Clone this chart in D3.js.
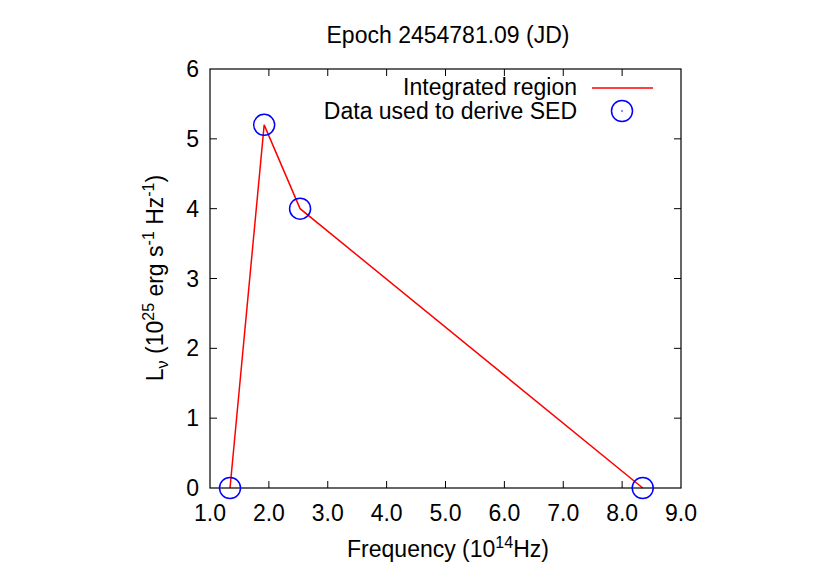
<!DOCTYPE html>
<html>
<head>
<meta charset="utf-8">
<script src="https://cdn.jsdelivr.net/npm/d3@7"></script>
<style>
body { margin: 0; background: #fff; }
text { font-family: "Liberation Sans", Arial, sans-serif; fill: #000; }
</style>
</head>
<body>
<svg width="830" height="581"></svg>
<script>
// SED points (frequency in 1e14 Hz, L_nu in 1e25 erg/s/Hz)
var freq = [1.34, 1.92, 2.53, 8.35];
var lum = [0.0, 5.2, 4.0, 0.0];
var xTicks = [1, 2, 3, 4, 5, 6, 7, 8, 9];
var yTicks = [0, 1, 2, 3, 4, 5, 6];

var svg = d3.select("svg"),
    pLeft = 210, pRight = 681, pTop = 69, pBottom = 488,
    fs = "23px", fsSmall = "16px";

var x = d3.scaleLinear().domain([1, 9]).range([pLeft, pRight]);
var y = d3.scaleLinear().domain([0, 6]).range([pBottom, pTop]);

var pts = freq.map(function(f, i) { return { f: f, l: lum[i] }; });

// ticks on all four sides, pointing inward
var tickLen = 7;
var g = svg.append("g").attr("stroke", "#000").attr("stroke-width", 1);
xTicks.slice(1, -1).forEach(function(t) {
    g.append("line").attr("x1", x(t)).attr("x2", x(t)).attr("y1", pBottom).attr("y2", pBottom - tickLen);
    g.append("line").attr("x1", x(t)).attr("x2", x(t)).attr("y1", pTop).attr("y2", pTop + tickLen);
});
yTicks.slice(1, -1).forEach(function(t) {
    g.append("line").attr("x1", pLeft).attr("x2", pLeft + tickLen).attr("y1", y(t)).attr("y2", y(t));
    g.append("line").attr("x1", pRight).attr("x2", pRight - tickLen).attr("y1", y(t)).attr("y2", y(t));
});

svg.append("g").selectAll("text").data(xTicks).enter().append("text")
    .attr("x", function(d) { return x(d); })
    .attr("y", pBottom + 33)
    .attr("text-anchor", "middle")
    .style("font-size", fs)
    .text(function(d) { return d3.format(".1f")(d); });

svg.append("g").selectAll("text").data(yTicks).enter().append("text")
    .attr("x", pLeft - 11)
    .attr("y", function(d) { return y(d) + 8; })
    .attr("text-anchor", "end")
    .style("font-size", fs)
    .text(function(d) { return d; });

// the integrated region line
svg.append("path")
    .datum(pts)
    .attr("fill", "none")
    .attr("stroke", "#ff0000")
    .attr("stroke-width", 1.5)
    .attr("d", d3.line().x(function(d) { return x(d.f); }).y(function(d) { return y(d.l); }));

// frame
svg.append("rect")
    .attr("x", pLeft).attr("y", pTop)
    .attr("width", pRight - pLeft).attr("height", pBottom - pTop)
    .attr("fill", "none").attr("stroke", "#000").attr("stroke-width", 1.2);

svg.append("g").selectAll("circle").data(pts).enter().append("circle")
    .attr("cx", function(d) { return x(d.f); })
    .attr("cy", function(d) { return y(d.l); })
    .attr("r", 10.5)
    .attr("fill", "none")
    .attr("stroke", "#0000ff")
    .attr("stroke-width", 1.5);

// legend
svg.append("text").attr("x", 577).attr("y", 95).attr("text-anchor", "end")
    .style("font-size", fs).text("Integrated region");
svg.append("line").attr("x1", 592).attr("x2", 653).attr("y1", 88).attr("y2", 88)
    .attr("stroke", "#ff0000").attr("stroke-width", 1.5);
svg.append("text").attr("x", 577).attr("y", 119).attr("text-anchor", "end")
    .style("font-size", fs).text("Data used to derive SED");
svg.append("circle").attr("cx", 622).attr("cy", 111).attr("r", 10.5)
    .attr("fill", "none").attr("stroke", "#0000ff").attr("stroke-width", 1.5);
svg.append("circle").attr("cx", 622).attr("cy", 111).attr("r", 0.8).attr("fill", "#0000ff");

// title and axis labels
svg.append("text").attr("x", 448).attr("y", 43).attr("text-anchor", "middle")
    .style("font-size", fs).text("Epoch 2454781.09 (JD)");

var xl = svg.append("text").attr("x", 448).attr("y", 557).attr("text-anchor", "middle")
    .style("font-size", fs);
xl.append("tspan").text("Frequency (10");
xl.append("tspan").attr("dy", -9).style("font-size", fsSmall).text("14");
xl.append("tspan").attr("dy", 9).text("Hz)");

var yl = svg.append("text")
    .attr("transform", "translate(163,278) rotate(-90)")
    .attr("text-anchor", "middle")
    .style("font-size", fs);
yl.append("tspan").text("L");
yl.append("tspan").attr("dy", 5).style("font-size", fsSmall).text("\u03bd");
yl.append("tspan").attr("dy", -5).text(" (10");
yl.append("tspan").attr("dy", -9).style("font-size", fsSmall).text("25");
yl.append("tspan").attr("dy", 9).text(" erg s");
yl.append("tspan").attr("dy", -9).style("font-size", fsSmall).text("-1");
yl.append("tspan").attr("dy", 9).text(" Hz");
yl.append("tspan").attr("dy", -9).style("font-size", fsSmall).text("-1");
yl.append("tspan").attr("dy", 9).text(")");
</script>
</body>
</html>
